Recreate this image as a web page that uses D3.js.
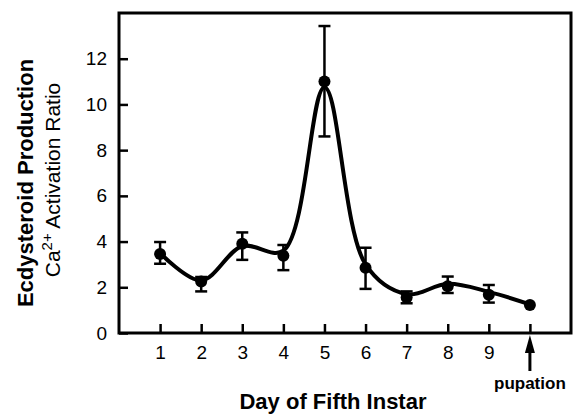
<!DOCTYPE html>
<html>
<head>
<meta charset="utf-8">
<script src="https://cdn.jsdelivr.net/npm/d3@7"></script>
<style>
  body { margin: 0; background: #fff; }
  svg { display: block; }
</style>
</head>
<body>
<svg id="chart" width="578" height="414"></svg>
<script>
// day of fifth instar (10 = pupation)
var days = [1, 2, 3, 4, 5, 6, 7, 8, 9, 10];
var ratio = [3.46, 2.25, 3.9, 3.38, 11.0, 2.85, 1.55, 2.05, 1.67, 1.23];
var errLow = [3.03, 1.82, 3.2, 2.75, 8.6, 1.93, 1.3, 1.75, 1.33, null];
var errHigh = [3.98, 2.45, 4.4, 3.85, 13.43, 3.73, 1.82, 2.47, 2.1, null];
// smoothed curve drawn through the data
var fitValues = [3.5, 2.3, 3.8, 3.6, 10.75, 3.0, 1.7, 2.15, 1.8, 1.25];
var xTicks = [1, 2, 3, 4, 5, 6, 7, 8, 9, 10];
var xTickLabels = ['1', '2', '3', '4', '5', '6', '7', '8', '9', ''];
var yTicks = [0, 2, 4, 6, 8, 10, 12];

var svg = d3.select('#chart');
var pLeft = 119, pRight = 571, pTop = 13, pBottom = 333;

var x = d3.scaleLinear().domain([0, 11]).range([pLeft, pRight]);
var y = d3.scaleLinear().domain([0, 14]).range([pBottom, pTop]);

var font = "'Liberation Sans', Arial, sans-serif";

// frame
svg.append('rect')
  .attr('x', pLeft).attr('y', pTop)
  .attr('width', pRight - pLeft).attr('height', pBottom - pTop)
  .style('fill', 'none').style('stroke', '#000').style('stroke-width', 3);

// y axis (ticks inward)
var yAxis = d3.axisLeft(y).tickValues(yTicks).tickSize(-9).tickPadding(12);
var gy = svg.append('g').attr('transform', 'translate(' + pLeft + ',0)').call(yAxis);
gy.select('.domain').remove();
gy.selectAll('line').style('stroke', '#000').style('stroke-width', 2.5);
gy.selectAll('text').style('font-family', font).style('font-size', '19px').style('fill', '#000');

// x axis (ticks inward)
var xAxis = d3.axisBottom(x).tickValues(xTicks)
  .tickFormat(function(d, i) { return xTickLabels[i]; })
  .tickSize(-9).tickPadding(13);
var gx = svg.append('g').attr('transform', 'translate(0,' + pBottom + ')').call(xAxis);
gx.select('.domain').remove();
gx.selectAll('line').style('stroke', '#000').style('stroke-width', 2.5);
gx.selectAll('text').style('font-family', font).style('font-size', '19px').style('fill', '#000');

// smooth curve
var line = d3.line()
  .x(function(d, i) { return x(days[i]); })
  .y(function(d) { return y(d); })
  .curve(d3.curveCatmullRom.alpha(0.5));
svg.append('path')
  .datum(fitValues)
  .attr('d', line)
  .style('fill', 'none').style('stroke', '#000').style('stroke-width', 4);

// error bars
var bars = days.map(function(d, i) { return {x: d, lo: errLow[i], hi: errHigh[i]}; })
  .filter(function(d) { return d.lo !== null; });
var eb = svg.append('g').selectAll('g').data(bars).enter().append('g');
eb.append('line')
  .attr('x1', function(d) { return x(d.x); }).attr('x2', function(d) { return x(d.x); })
  .attr('y1', function(d) { return y(d.lo); }).attr('y2', function(d) { return y(d.hi); })
  .style('stroke', '#000').style('stroke-width', 2.5);
['lo', 'hi'].forEach(function(k) {
  eb.append('line')
    .attr('x1', function(d) { return x(d.x) - 6; }).attr('x2', function(d) { return x(d.x) + 6; })
    .attr('y1', function(d) { return y(d[k]); }).attr('y2', function(d) { return y(d[k]); })
    .style('stroke', '#000').style('stroke-width', 2.5);
});

// points
svg.append('g').selectAll('circle').data(ratio).enter().append('circle')
  .attr('cx', function(d, i) { return x(days[i]); })
  .attr('cy', function(d) { return y(d); })
  .attr('r', 6)
  .style('fill', '#000');

// pupation arrow
var px = x(10);
svg.append('line')
  .attr('x1', px).attr('x2', px).attr('y1', pBottom + 18).attr('y2', pBottom + 38)
  .style('stroke', '#000').style('stroke-width', 3);
svg.append('path')
  .attr('d', 'M' + px + ',' + (pBottom + 2) + 'L' + (px - 5) + ',' + (pBottom + 20) + 'L' + (px + 5) + ',' + (pBottom + 20) + 'Z')
  .style('fill', '#000');
svg.append('text')
  .attr('x', px).attr('y', pBottom + 56)
  .attr('text-anchor', 'middle')
  .style('font-family', font).style('font-size', '17px').style('font-weight', 'bold')
  .text('pupation');

// x label
svg.append('text')
  .attr('x', 333).attr('y', 409)
  .attr('text-anchor', 'middle')
  .style('font-family', font).style('font-size', '22px').style('font-weight', 'bold')
  .text('Day of Fifth Instar');

// y labels
svg.append('text')
  .attr('transform', 'translate(33,183) rotate(-90)')
  .attr('text-anchor', 'middle')
  .style('font-family', font).style('font-size', '22px').style('font-weight', 'bold')
  .text('Ecdysteroid Production');
var t2 = svg.append('text')
  .attr('transform', 'translate(60,180) rotate(-90)')
  .attr('text-anchor', 'middle')
  .style('font-family', font).style('font-size', '21px');
t2.append('tspan').text('Ca');
t2.append('tspan').attr('dy', -8).style('font-size', '15px').text('2+');
t2.append('tspan').attr('dy', 8).text(' Activation Ratio');
</script>
</body>
</html>
